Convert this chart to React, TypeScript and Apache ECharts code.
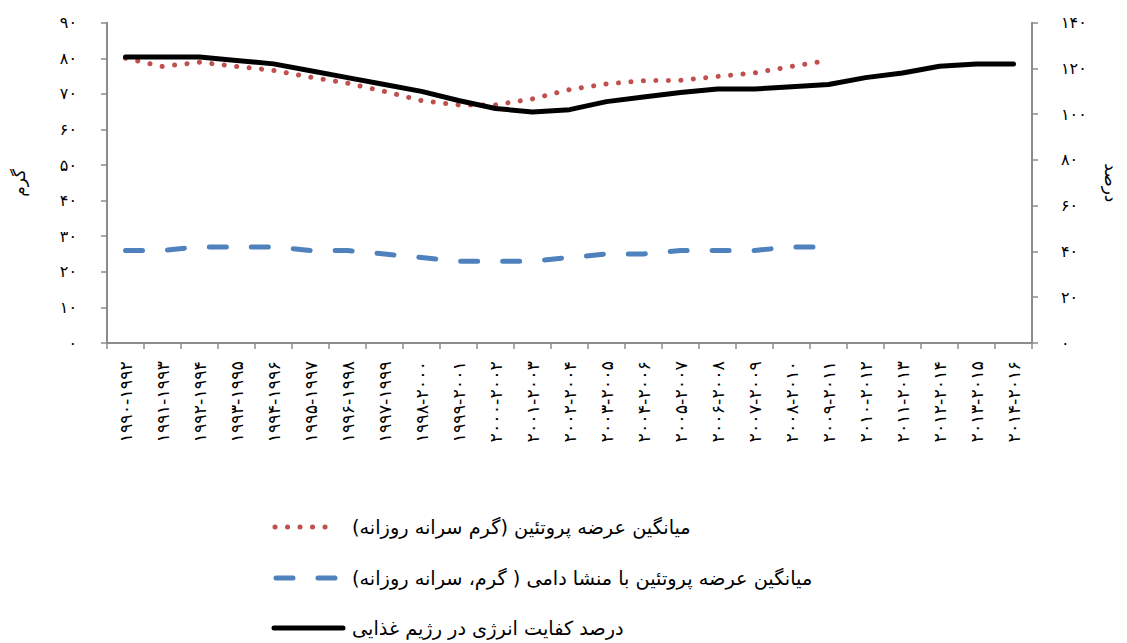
import React, { useEffect, useRef } from "react";
import * as echarts from "echarts";

const categories = [
  "۱۹۹۰-۱۹۹۲", "۱۹۹۱-۱۹۹۳", "۱۹۹۲-۱۹۹۴", "۱۹۹۳-۱۹۹۵", "۱۹۹۴-۱۹۹۶",
  "۱۹۹۵-۱۹۹۷", "۱۹۹۶-۱۹۹۸", "۱۹۹۷-۱۹۹۹", "۱۹۹۸-۲۰۰۰", "۱۹۹۹-۲۰۰۱",
  "۲۰۰۰-۲۰۰۲", "۲۰۰۱-۲۰۰۳", "۲۰۰۲-۲۰۰۴", "۲۰۰۳-۲۰۰۵", "۲۰۰۴-۲۰۰۶",
  "۲۰۰۵-۲۰۰۷", "۲۰۰۶-۲۰۰۸", "۲۰۰۷-۲۰۰۹", "۲۰۰۸-۲۰۱۰", "۲۰۰۹-۲۰۱۱",
  "۲۰۱۰-۲۰۱۲", "۲۰۱۱-۲۰۱۳", "۲۰۱۲-۲۰۱۴", "۲۰۱۳-۲۰۱۵", "۲۰۱۴-۲۰۱۶",
];

const proteinSupply = [
  80, 77.7, 78.9, 77.7, 76.6, 74.7, 73, 70.7, 68.1, 66.9,
  66.9, 68.6, 71.2, 72.8, 73.7, 73.8, 74.9, 75.9, 77.7, 79.4,
];

const animalProtein = [
  26, 26, 27, 27, 27, 26, 26, 25, 24, 23,
  23, 23, 24, 25, 25, 26, 26, 26, 27, 27,
];

const energyAdequacy = [
  125, 125, 125, 123.5, 122, 119, 116, 113, 110, 106,
  102.5, 101, 102, 105.5, 107.5, 109.5, 111, 111, 112, 113,
  116, 118, 121, 122, 122,
];

const seriesNames = [
  "میانگین عرضه پروتئین (گرم سرانه روزانه)",
  "میانگین عرضه پروتئین با منشا دامی ( گرم، سرانه روزانه)",
  "درصد کفایت انرژی در رژیم غذایی",
];

const leftAxisName = "گرم";
const rightAxisName = "درصد";

const faDigits = ["۰", "۱", "۲", "۳", "۴", "۵", "۶", "۷", "۸", "۹"];
const toFa = (v: number) => String(v).replace(/[0-9]/g, (d) => faDigits[Number(d)]);

const FONT = "'DejaVu Sans', 'Noto Sans', sans-serif";
const AXIS_GRAY = "#8c8c8c";
const RED = "#C0504D";
const BLUE = "#4F81BD";
const BLACK = "#000000";

const redStyle = { width: 5, dash: [0.1, 12.4] as number[] };
const blueStyle = { width: 5, dash: [17, 25] as number[] };
const blackStyle = { width: 5 };

export default function App() {
  const ref = useRef<HTMLDivElement>(null);

  useEffect(() => {
    if (!ref.current) return;
    const chart = echarts.init(ref.current, undefined, { renderer: "svg" });

    const legendRows = [
      { y: 527, color: RED, width: redStyle.width, dash: redStyle.dash, x1: 275, x2: 337 },
      { y: 578, color: BLUE, width: blueStyle.width, dash: blueStyle.dash, x1: 276, x2: 336 },
      { y: 628, color: BLACK, width: blackStyle.width, dash: null as number[] | null, x1: 274, x2: 343 },
    ];

    const legendGraphics: any[] = [];
    legendRows.forEach((r, i) => {
      legendGraphics.push({
        type: "line",
        shape: { x1: r.x1, y1: r.y, x2: r.x2, y2: r.y },
        style: {
          stroke: r.color,
          lineWidth: r.width,
          lineDash: r.dash || undefined,
          lineCap: "round",
        },
        silent: true,
      });
      legendGraphics.push({
        type: "text",
        x: 352,
        y: r.y,
        style: {
          text: seriesNames[i],
          fill: "#000",
          fontSize: 19.3,
          fontFamily: FONT,
          align: "left",
          verticalAlign: "middle",
        },
        silent: true,
      });
    });

    chart.setOption({
      animation: false,
      backgroundColor: "#ffffff",
      textStyle: { fontFamily: FONT },
      grid: { left: 107, right: 91, top: 22.7, bottom: 300, containLabel: false },
      legend: { show: false, data: seriesNames },
      graphic: legendGraphics,
      xAxis: {
        type: "category",
        data: categories,
        boundaryGap: true,
        axisLine: { lineStyle: { color: AXIS_GRAY, width: 2 } },
        axisTick: { show: true, length: 6, lineStyle: { color: AXIS_GRAY, width: 1.5 } },
        axisLabel: {
          rotate: 90,
          margin: 18,
          interval: 0,
          fontSize: 17.5,
          color: "#000",
          fontFamily: FONT,
        },
        splitLine: { show: false },
      },
      yAxis: [
        {
          type: "value",
          min: 0,
          max: 90,
          interval: 10,
          position: "left",
          name: leftAxisName,
          nameLocation: "middle",
          nameRotate: 90,
          nameGap: 80,
          nameTextStyle: { fontSize: 17, color: "#000", fontFamily: FONT },
          axisLine: { show: true, lineStyle: { color: AXIS_GRAY, width: 2 } },
          axisTick: { show: true, length: 6, lineStyle: { color: AXIS_GRAY, width: 1.5 } },
          axisLabel: {
            margin: 30,
            fontSize: 16,
            color: "#000",
            fontFamily: FONT,
            formatter: (v: number) => toFa(v),
          },
          splitLine: { show: false },
        },
        {
          type: "value",
          min: 0,
          max: 140,
          interval: 20,
          position: "right",
          name: rightAxisName,
          nameLocation: "middle",
          nameRotate: -90,
          nameGap: 70,
          nameTextStyle: { fontSize: 17, color: "#000", fontFamily: FONT },
          axisLine: { show: true, lineStyle: { color: AXIS_GRAY, width: 2 } },
          axisTick: { show: true, length: 6, lineStyle: { color: AXIS_GRAY, width: 1.5 } },
          axisLabel: {
            margin: 29,
            fontSize: 16,
            color: "#000",
            fontFamily: FONT,
            formatter: (v: number) => toFa(v),
          },
          splitLine: { show: false },
        },
      ],
      series: [
        {
          name: seriesNames[0],
          type: "line",
          yAxisIndex: 0,
          data: proteinSupply,
          symbol: "none",
          color: RED,
          lineStyle: { color: RED, width: redStyle.width, type: redStyle.dash, cap: "round" },
          z: 2,
        },
        {
          name: seriesNames[1],
          type: "line",
          yAxisIndex: 0,
          data: animalProtein,
          symbol: "none",
          color: BLUE,
          lineStyle: { color: BLUE, width: blueStyle.width, type: blueStyle.dash, cap: "round" },
          z: 2,
        },
        {
          name: seriesNames[2],
          type: "line",
          yAxisIndex: 1,
          data: energyAdequacy,
          symbol: "none",
          color: BLACK,
          lineStyle: { color: BLACK, width: blackStyle.width, type: "solid", cap: "round", join: "round" },
          z: 3,
        },
      ],
    });
    return () => chart.dispose();
  }, []);

  return (
    <div
      ref={ref}
      style={{ position: "absolute", left: 0, top: 0, width: 1127, height: 643 }}
    />
  );
}
